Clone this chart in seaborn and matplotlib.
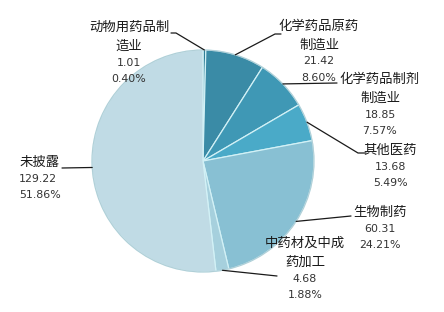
import numpy as np
import matplotlib
matplotlib.use("Agg")
import matplotlib.pyplot as plt
import seaborn as sns

sns.set_theme(style="white")
plt.rcParams['font.family'] = ['Noto Sans CJK SC', 'DejaVu Sans']

# ---- data (clockwise from 12 o'clock) ----
names = [["动物用药品制", "造业"], ["化学药品原药", "制造业"], ["化学药品制剂", "制造业"],
         ["其他医药"], ["生物制药"], ["中药材及中成", "药加工"], ["未披露"]]
values = [1.01, 21.42, 18.85, 13.68, 60.31, 4.68, 129.22]
pct_labels = ["0.40%", "8.60%", "7.57%", "5.49%", "24.21%", "1.88%", "51.86%"]
colors = ["#2f7f98", "#3a8ba6", "#3f98b5", "#4aaac8", "#88c0d3", "#a6d0dd", "#c0dbe5"]

# ---- layout (pixel coordinates, y downward) ----
W, H = 444, 312
cx, cy, R = 203, 161, 111
# text anchor (x, first line y), alignment, and leader end points
text_pos = [(129, 27, "center"), (319, 26, "center"), (380, 79, "center"),
            (390, 150, "center"), (380, 212, "center"), (305, 243, "center"),
            (19, 162, "left")]
leader_pts = [[(176, 33), (171, 33)], [(275, 34), (281, 34)], [(337, 83)],
              [(358, 153), (366, 153)], [(351, 216)], [(277, 276)], [(62, 168)]]

fig = plt.figure(figsize=(W / 100, H / 100), dpi=100)
ax = fig.add_axes([0, 0, 1, 1])

wedges, _ = ax.pie(values, colors=colors, startangle=90, counterclock=False,
                   center=(cx, H - cy), radius=R,
                   wedgeprops=dict(edgecolor="#d2f1f6", linewidth=0.9))
ax.set_xlim(0, W)
ax.set_ylim(0, H)
ax.set_aspect("equal")
ax.axis("off")
# subtle outer rim
circ = plt.Circle((cx, H - cy), R, fill=False, edgecolor="#9bb8c2", linewidth=0.8, alpha=0.6)
ax.add_patch(circ)

for i, w in enumerate(wedges):
    ang = np.deg2rad((w.theta1 + w.theta2) / 2)
    sx = cx + R * np.cos(ang)
    sy = (H - cy) + R * np.sin(ang)
    xs = [sx] + [p[0] for p in leader_pts[i]]
    ys = [sy] + [H - p[1] for p in leader_pts[i]]
    ax.plot(xs, ys, color="#1a1a1a", linewidth=0.9)

    tx, ty, ha = text_pos[i]
    y = ty
    for j, line in enumerate(names[i]):
        ax.text(tx, H - y, line, ha=ha, va="center", fontsize=9.6, color="#1a1a1a")
        y += 18.5
    y -= 1.5
    for line in [f"{values[i]:.2f}", pct_labels[i]]:
        ax.text(tx, H - y, line, ha=ha, va="center", fontsize=7.9, color="#333333",
                family="DejaVu Sans")
        y += 16.5

fig.savefig("out.png", dpi=100)
